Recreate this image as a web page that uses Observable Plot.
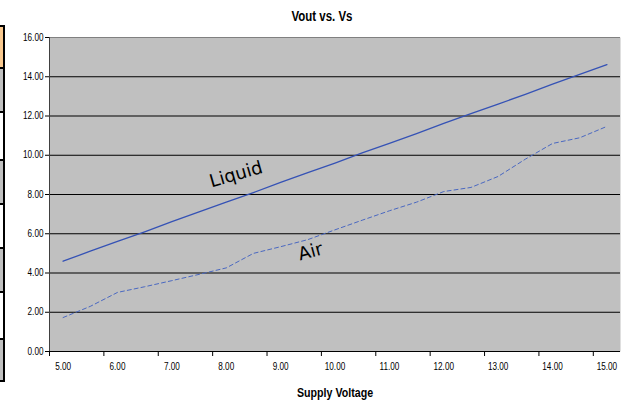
<!DOCTYPE html>
<html>
<head>
<meta charset="utf-8">
<script src="https://cdn.jsdelivr.net/npm/d3@7"></script>
<script src="https://cdn.jsdelivr.net/npm/@observablehq/plot@0.6"></script>
<style>
  html, body { margin: 0; padding: 0; background: #fff; overflow: hidden; }
  #wrap { position: relative; width: 621px; height: 400px; }
  #wrap svg { position: absolute; left: 0; top: 0; }
  .cell { position: absolute; left: 0; width: 5px; border-right: 2px solid #000; border-bottom: 2px solid #000; box-sizing: border-box; }
</style>
</head>
<body>
<div id="wrap"></div>
<script>
// Categories (supply voltage) and series values
const categories = [5.00, 5.50, 6.00, 6.50, 7.00, 7.50, 8.00, 8.50, 9.00, 9.50, 10.00,
                    10.50, 11.00, 11.50, 12.00, 12.50, 13.00, 13.50, 14.00, 14.50, 15.00];
const liquid = [4.60, 5.11, 5.61, 6.10, 6.62, 7.12, 7.61, 8.10, 8.62, 9.11, 9.60,
                10.12, 10.61, 11.10, 11.62, 12.12, 12.61, 13.10, 13.62, 14.12, 14.62];
const air = [1.73, 2.30, 3.01, 3.30, 3.61, 3.93, 4.26, 5.00, 5.34, 5.70, 6.20,
             6.69, 7.17, 7.61, 8.15, 8.36, 8.92, 9.80, 10.60, 10.89, 11.47];
const yTicks = [0, 2, 4, 6, 8, 10, 12, 14, 16];
const xLabels = [5, 6, 7, 8, 9, 10, 11, 12, 13, 14, 15];
const xTickBounds = [4.75, 5.75, 6.75, 7.75, 8.75, 9.75, 10.75, 11.75, 12.75, 13.75, 14.75];
const title = "Vout vs. Vs";
const xTitle = "Supply Voltage";
const seriesNames = ["Liquid", "Air"];

const table = categories.map((v, i) => ({v, liquid: liquid[i], air: air[i]}));
const narrow = "'Liberation Sans Narrow', 'Arial Narrow', 'Liberation Sans', Arial, sans-serif";

const chart = Plot.plot({
  width: 621,
  height: 400,
  marginLeft: 49,
  marginRight: 1,
  marginTop: 37,
  marginBottom: 49,
  style: {fontFamily: narrow, fontSize: "10px", background: "transparent", color: "#000"},
  x: {type: "linear", domain: [4.75, 15.25]},
  y: {type: "linear", domain: [0, 16]},
  marks: [
    Plot.frame({fill: "#c0c0c0", stroke: "none"}),
    Plot.ruleY(yTicks, {stroke: d => d === 16 ? "#808080" : "#000000", strokeWidth: 1}),
    Plot.ruleX([4.75], {stroke: "#404040", strokeWidth: 1}),
    Plot.axisY(yTicks, {tickFormat: d => d.toFixed(2), tickSize: 4, tickPadding: 2, label: null, stroke: "#000"}),
    Plot.axisX(xTickBounds, {tickFormat: () => "", tickSize: 5, label: null, stroke: "#000"}),
    Plot.axisX(xLabels, {tickFormat: d => d.toFixed(2), tickSize: 0, tickPadding: 11, label: null}),
    Plot.line(table, {x: "v", y: "liquid", stroke: "#3552b5", strokeWidth: 1.3}),
    Plot.line(table, {x: "v", y: "air", stroke: "#4a68c0", strokeWidth: 1, strokeDasharray: "4,3"}),
    Plot.text([seriesNames[0]], {x: 8.18, y: 9.02, rotate: -16, fontSize: 18, fontFamily: "'DejaVu Sans', sans-serif", fill: "#000"}),
    Plot.text([seriesNames[1]], {x: 9.55, y: 5.09, rotate: -15, fontSize: 18, fontFamily: "'DejaVu Sans', sans-serif", fill: "#000"}),
    Plot.text([title], {frameAnchor: "top", dx: -13, dy: -21, fontSize: 14, fontWeight: "bold", lineAnchor: "middle"}),
    Plot.text([xTitle], {frameAnchor: "bottom", dy: 41, fontSize: 13, fontWeight: "bold", lineAnchor: "middle"})
  ]
});

// Condense the Arial-like texts horizontally (the original uses a narrow face)
d3.select(chart).selectAll("text").each(function () {
  const t = d3.select(this);
  if (seriesNames.includes(t.text())) return;
  const tr = t.attr("transform") || "";
  t.attr("transform", `${tr} scale(0.82,1)`);
});

const wrap = document.getElementById("wrap");
// spreadsheet cells peeking at the left edge
const cells = [[25, 44, "#f9c98f"], [69, 44, "#c0c0c0"], [113, 48, "#ffffff"], [161, 44, "#c0c0c0"],
               [205, 44, "#ffffff"], [249, 44, "#c0c0c0"], [293, 47, "#ffffff"], [340, 42, "#c0c0c0"]];
cells.forEach(([top, h, bg], i) => {
  const d = document.createElement("div");
  d.className = "cell";
  d.style.top = top + "px";
  d.style.height = h + "px";
  d.style.background = bg;
  if (i === 0) d.style.borderTop = "2px solid #000";
  wrap.appendChild(d);
});
wrap.appendChild(chart);
</script>
</body>
</html>
